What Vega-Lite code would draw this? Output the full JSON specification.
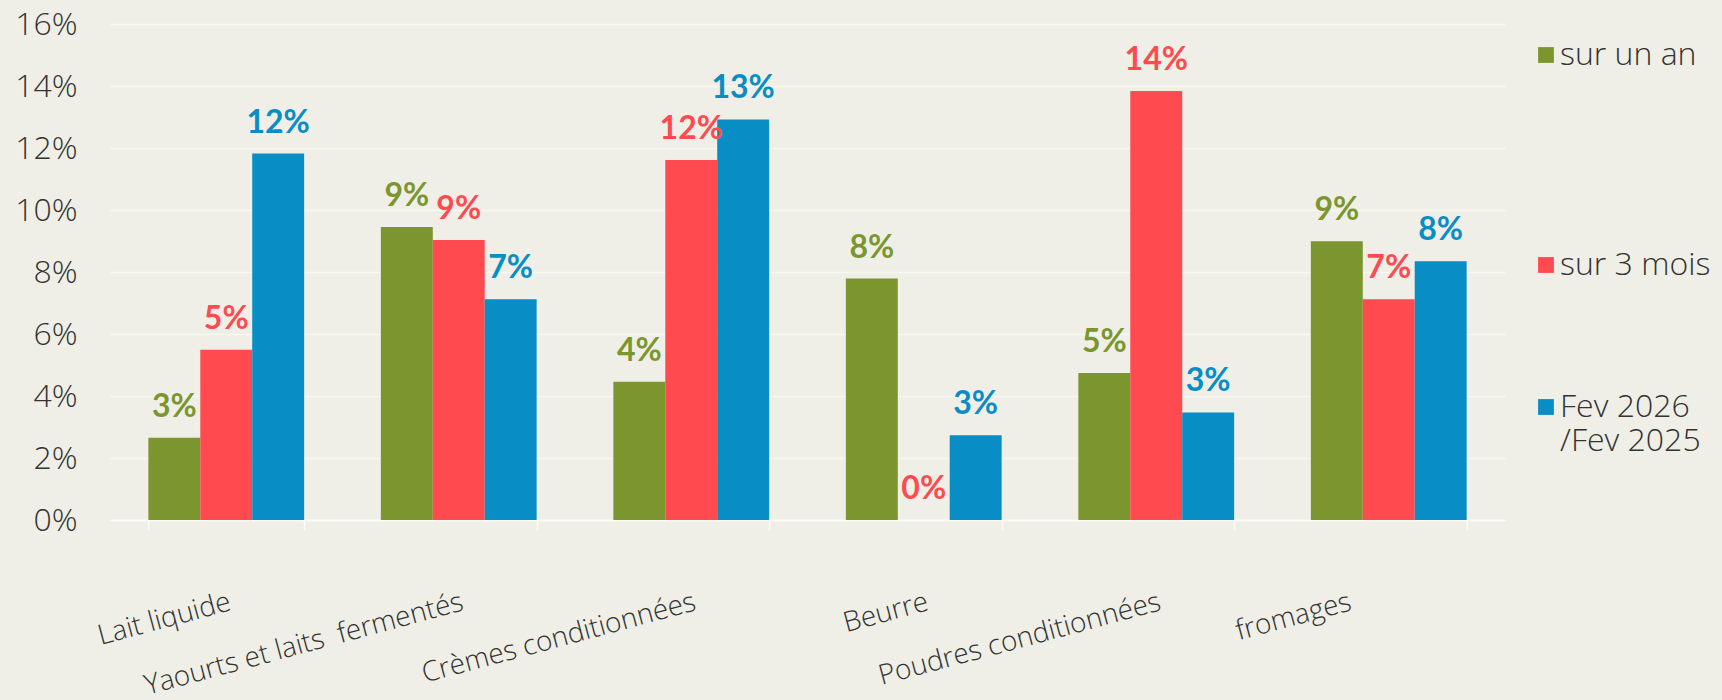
{
  "$schema": "https://vega.github.io/schema/vega-lite/v6.json",
  "width": 1395,
  "height": 496,
  "autosize": {"type": "none"},
  "padding": {"left": 110, "top": 24, "right": 217, "bottom": 180},
  "background": "#EFEFE7",
  "config": {"view": {"stroke": null}, "font": "Open Sans"},
  "data": {
    "values": [
      {"cat": "Lait liquide", "serie": "sur un an", "v": 0.0265},
      {"cat": "Lait liquide", "serie": "sur 3 mois", "v": 0.0549},
      {"cat": "Lait liquide", "serie": "Fev 2026 /Fev 2025", "v": 0.1182},
      {"cat": "Yaourts et laits\u00a0 fermentés", "serie": "sur un an", "v": 0.0945},
      {"cat": "Yaourts et laits\u00a0 fermentés", "serie": "sur 3 mois", "v": 0.0903},
      {"cat": "Yaourts et laits\u00a0 fermentés", "serie": "Fev 2026 /Fev 2025", "v": 0.0712},
      {"cat": "Crèmes conditionnées", "serie": "sur un an", "v": 0.0446},
      {"cat": "Crèmes conditionnées", "serie": "sur 3 mois", "v": 0.1161},
      {"cat": "Crèmes conditionnées", "serie": "Fev 2026 /Fev 2025", "v": 0.1292},
      {"cat": "Beurre", "serie": "sur un an", "v": 0.0779},
      {"cat": "Beurre", "serie": "sur 3 mois", "v": 0.0},
      {"cat": "Beurre", "serie": "Fev 2026 /Fev 2025", "v": 0.0273},
      {"cat": "Poudres conditionnées", "serie": "sur un an", "v": 0.0474},
      {"cat": "Poudres conditionnées", "serie": "sur 3 mois", "v": 0.1384},
      {"cat": "Poudres conditionnées", "serie": "Fev 2026 /Fev 2025", "v": 0.0347},
      {"cat": "fromages", "serie": "sur un an", "v": 0.0899},
      {"cat": "fromages", "serie": "sur 3 mois", "v": 0.0712},
      {"cat": "fromages", "serie": "Fev 2026 /Fev 2025", "v": 0.0835}
    ]
  },
  "encoding": {
    "x": {
      "field": "cat",
      "type": "nominal",
      "sort": ["Lait liquide", "Yaourts et laits\u00a0 fermentés", "Crèmes conditionnées", "Beurre", "Poudres conditionnées", "fromages"],
      "scale": {"paddingInner": 0.33, "paddingOuter": 0.165},
      "axis": {
        "title": null,
        "labelAngle": -15,
        "labelAlign": "right",
        "labelBaseline": "top",
        "labelFont": "Open Sans",
        "labelFontWeight": 300,
        "labelFontSize": 28,
        "labelColor": "#333333",
        "labelPadding": 58,
        "labelLimit": 600,
        "labelOffset": {"condition": {"test": "datum.value == 'fromages'", "value": -42}, "value": 0},
        "domainColor": "#FAFAF6",
        "domainWidth": 2,
        "tickBand": "extent",
        "tickColor": "#FAFAF6",
        "tickSize": 10,
        "tickWidth": 1.5
      }
    },
    "xOffset": {
      "field": "serie",
      "type": "nominal",
      "sort": ["sur un an", "sur 3 mois", "Fev 2026 /Fev 2025"],
      "scale": {"paddingInner": 0, "paddingOuter": 0}
    },
    "y": {
      "field": "v",
      "type": "quantitative",
      "scale": {"domain": [0, 0.16], "nice": false},
      "axis": {
        "title": null,
        "values": [0, 0.02, 0.04, 0.06, 0.08, 0.1, 0.12, 0.14, 0.16],
        "format": ".0%",
        "labelFont": "Open Sans",
        "labelFontWeight": 300,
        "labelFontSize": 32,
        "labelColor": "#333333",
        "labelPadding": 33,
        "ticks": false,
        "domain": false,
        "gridColor": "#F8F8F3",
        "gridWidth": 1.5
      }
    },
    "color": {
      "field": "serie",
      "type": "nominal",
      "sort": ["sur un an", "sur 3 mois", "Fev 2026 /Fev 2025"],
      "scale": {"range": ["#7B962E", "#FF4A4F", "#088DC5"]},
      "legend": {
        "title": null,
        "orient": "none",
        "legendX": 1420,
        "legendY": 15,
        "symbolType": "square",
        "symbolSize": 250,
        "symbolStrokeWidth": 0,
        "labelFont": "Open Sans",
        "labelFontWeight": 300,
        "labelFontSize": 32,
        "labelColor": "#333333",
        "labelOffset": -2,
        "labelLimit": 300,
        "rowPadding": 110,
        "labelExpr": "datum.label == 'Fev 2026 /Fev 2025' ? ['Fev 2026', '/Fev 2025'] : datum.label == 'sur un an' ? ['sur un an', ' ', ' '] : datum.label"
      }
    }
  },
  "layer": [
    {"mark": {"type": "bar"}},
    {
      "mark": {"type": "text", "baseline": "alphabetic", "dy": -21, "font": "Lato", "fontWeight": "bold", "fontSize": 32},
      "encoding": {"text": {"field": "v", "format": ".0%"}}
    }
  ]
}
